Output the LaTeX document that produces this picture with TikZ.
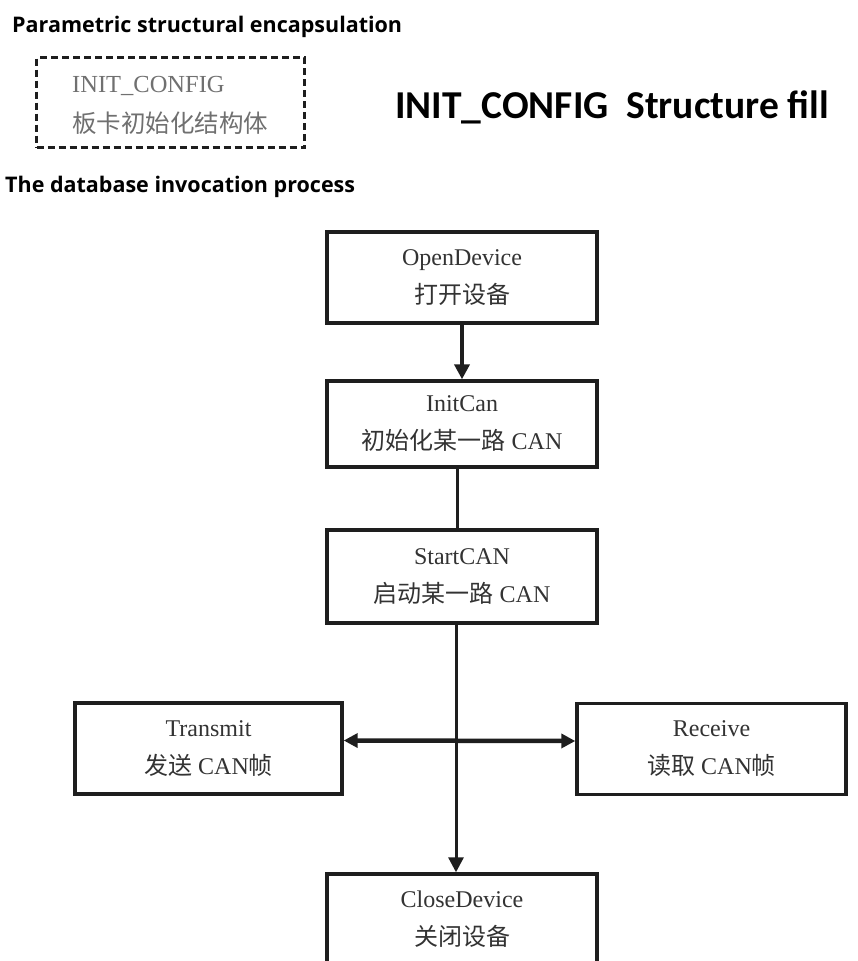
\documentclass[tikz,border=0pt]{standalone}
\usepackage{fontspec}
\setmainfont{Liberation Serif}
\newfontfamily\cjk{Noto Sans CJK SC}
\newfontfamily\headfont{Open Sans}
\newfontfamily\titlefont{Carlito}
\usetikzlibrary{arrows.meta,calc}
\definecolor{edge}{HTML}{1E1E1E}
\definecolor{boxtext}{HTML}{333333}
\definecolor{cfgtext}{HTML}{707070}
\begin{document}
\begin{tikzpicture}[x=1pt,y=-1pt,
  box/.style={draw=edge, line width=3.4pt, minimum width=270pt, minimum height=91pt,
    align=center, inner sep=0pt, text=boxtext, font=\fontsize{24}{38}\selectfont},
  heading/.style={anchor=base west, inner sep=0pt, font=\headfont\bfseries\fontsize{21.5}{25}\selectfont},
  conn/.style={draw=edge, line width=3pt},
  thick conn/.style={draw=edge, line width=4.5pt},
  tip/.style={-{Triangle[length=15pt,width=15pt]}},
  twotip/.style={{Triangle[length=14pt,width=14pt]}-{Triangle[length=14pt,width=14pt]}}]
\useasboundingbox (0,0) rectangle (857,961);
\fill[white] (0,0) rectangle (857,961);
\clip (0,0) rectangle (857,961);

% headings
\node[heading] (h1) at (12,32.5) {Parametric structural encapsulation};
\node[heading] (h2) at (5,192.5) {The database invocation process};
\node[anchor=base west, inner sep=0pt, font=\titlefont\bfseries\fontsize{39.5}{44}\selectfont] (title) at (395,118) {INIT\_CONFIG\ \ Structure fill};

% dashed structure box
\node[draw=edge, line width=2.8pt, dash pattern=on 7pt off 4pt, minimum width=268pt, minimum height=90pt, inner sep=0pt] (cfg) at (170.5,102.5) {};
\node[anchor=west, inner sep=0pt, text=cfgtext, font=\fontsize{24.5}{28}\selectfont] (cfgA) at (72,86) {INIT\_CONFIG};
\node[anchor=west, inner sep=0pt, text=cfgtext, font=\cjk\fontsize{24.5}{28}\selectfont] (cfgB) at (72,123) {板卡初始化结构体};

% flow boxes
\node[box] (open) at (462,277.5) {OpenDevice\\{\cjk 打开设备}};
\node[box, minimum height=86pt] (init) at (462,424) {InitCan\\{\cjk 初始化某一路} CAN};
\node[box, minimum height=93pt] (start) at (462,576.5) {StartCAN\\{\cjk 启动某一路} CAN};
\node[box, minimum width=267pt] (tx) at (208.5,748.5) {Transmit\\{\cjk 发送} CAN{\cjk 帧}};
\node[box, minimum width=269pt] (rx) at (711.5,749) {Receive\\{\cjk 读取} CAN{\cjk 帧}};
\node[box] (close) at (462,919.5) {CloseDevice\\{\cjk 关闭设备}};

% connectors
\draw[thick conn, tip] (open.south) -- (init.north);
\draw[conn] ([xshift=-5pt]init.south) -- ([xshift=-5pt]start.north);
\draw[conn, tip] ([xshift=-6pt]start.south) -- ([xshift=-6pt]close.north);
\draw[thick conn, twotip] ([yshift=8pt]tx.east) -- ([yshift=8pt]rx.west);
\end{tikzpicture}
\end{document}
